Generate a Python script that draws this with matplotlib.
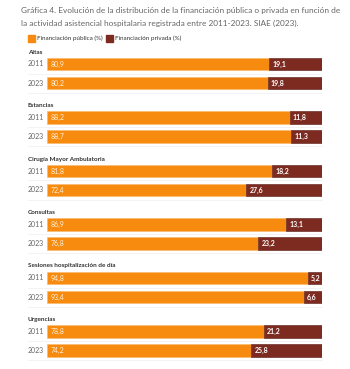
import matplotlib.pyplot as plt
import numpy as np

categorias = ["Altas", "Estancias", "Cirugía Mayor Ambulatoria", "Consultas",
              "Sesiones hospitalización de día", "Urgencias"]
años = ["2011", "2023"]
publica_2011 = [80.9, 88.2, 81.8, 86.9, 94.8, 78.8]
privada_2011 = [19.1, 11.8, 18.2, 13.1, 5.2, 21.2]
publica_2023 = [80.2, 88.7, 72.4, 76.8, 93.4, 74.2]
privada_2023 = [19.8, 11.3, 27.6, 23.2, 6.6, 25.8]

c_pub = "#F68B0F"
c_priv = "#7D2A20"

W, H = 350, 369
fig = plt.figure(figsize=(W / 100, H / 100), dpi=100)
plt.rcParams['font.family'] = ['Lato', 'DejaVu Sans']

# eje en pixeles verticales, x en porcentaje
x0, x1 = 47, 322
ax = fig.add_axes([x0 / W, 0, (x1 - x0) / W, 1])
ax.set_xlim(0, 100)
ax.set_ylim(H, 0)
ax.axis("off")

def fmt(v):
    return ("%.1f" % v).replace(".", ",")

y_grupo0 = 52
paso = 53.5
alto = 12.5
for i, cat in enumerate(categorias):
    yl = y_grupo0 + i * paso
    fig.text(28 / W, 1 - yl / H, cat, fontsize=4.6, fontweight="bold",
             color="#333333", va="center", ha="left")
    filas = [(publica_2011[i], privada_2011[i]), (publica_2023[i], privada_2023[i])]
    for j, (pub, priv) in enumerate(filas):
        yc = yl + 12 + j * 19
        ax.barh(yc, pub, height=alto, color=c_pub, edgecolor="#FBB86A", linewidth=0.4)
        ax.barh(yc, priv, left=pub, height=alto, color=c_priv, edgecolor="#5a1a12", linewidth=0.4)
        ax.text(1.2, yc, fmt(pub), color="#FFF2E0", fontsize=5, va="center", ha="left")
        ax.text(pub + 1.2, yc, fmt(priv), color="white", fontsize=5, va="center",
                ha="left", fontweight="bold")
        fig.text(28 / W, 1 - yc / H, años[j], fontsize=5, color="#666666",
                 va="center", ha="left")
        # linea separadora
        fig.add_artist(plt.Line2D([28 / W, x1 / W], [1 - (yc + 9.5) / H] * 2,
                                  color="#eeeeee", linewidth=0.5))

fig.text(21 / W, 1 - 10 / H,
         "Gráfica 4. Evolución de la distribución de la financiación pública o privada en función de",
         fontsize=5.95, color="#666666", va="center", ha="left")
fig.text(21 / W, 1 - 23 / H,
         "la actividad asistencial hospitalaria registrada entre 2011-2023. SIAE (2023).",
         fontsize=5.95, color="#666666", va="center", ha="left")

# leyenda
ly = 38
fig.patches.append(plt.Rectangle((28 / W, 1 - (ly + 3.5) / H), 7 / W, 7 / H,
                                 color=c_pub, transform=fig.transFigure))
fig.text(37 / W, 1 - ly / H, "Financiación pública (%)", fontsize=4.5,
         color="#333333", va="center", ha="left")
fig.patches.append(plt.Rectangle((106 / W, 1 - (ly + 3.5) / H), 7 / W, 7 / H,
                                 color=c_priv, transform=fig.transFigure))
fig.text(115 / W, 1 - ly / H, "Financiación privada (%)", fontsize=4.5,
         color="#333333", va="center", ha="left")

fig.savefig("out.png", dpi=100, facecolor="white")
